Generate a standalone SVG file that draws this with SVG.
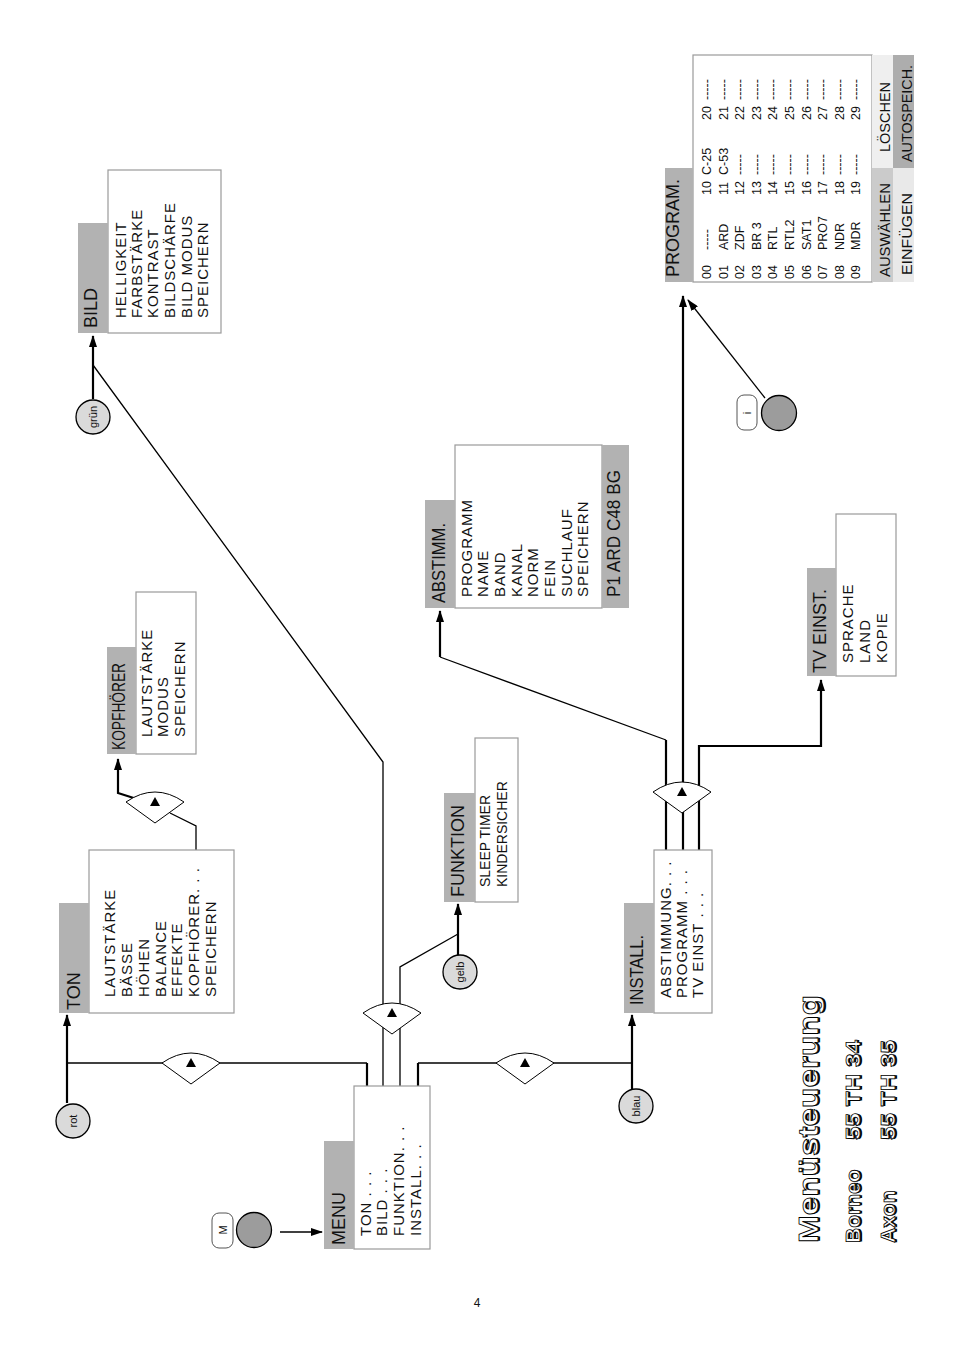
<svg xmlns="http://www.w3.org/2000/svg" width="954" height="1351" viewBox="0 0 954 1351">
<defs>
<style>
text{font-family:"Liberation Sans",Arial,sans-serif;fill:#111}
.hdr{fill:#b2b2b2}
.box{fill:#fff;stroke:#9a9a9a;stroke-width:1.2}
.h{font-size:18px}
.it{font-size:15px;letter-spacing:1px}
.tb{font-size:12.5px}
.bt{font-size:15px}
.ln{fill:none;stroke:#000;stroke-width:1.3}
.tk{fill:none;stroke:#000;stroke-width:2.2}
.fan{fill:#fff;stroke:#000;stroke-width:1}
.tri{fill:#000}
.btn{fill:#dadada;stroke:#000;stroke-width:1.3}
.gb{fill:#9c9c9c;stroke:#000;stroke-width:1.3}
.lab{fill:#fff;stroke:#555;stroke-width:1}
.lbl{font-size:11px;text-anchor:middle}
.ttl{font-weight:bold;fill:#fff;stroke:#000;stroke-width:0.8}
.sh{font-weight:bold;fill:#000}
</style>
<marker id="ah" markerUnits="userSpaceOnUse" markerWidth="12" markerHeight="8" refX="11" refY="4" orient="auto"><path d="M0,0 L12,4 L0,8 Z" fill="#000"/></marker>
</defs>

<g id="connectors">
  <line class="ln" x1="280" y1="1232" x2="322" y2="1232" marker-end="url(#ah)"/>
  <line class="tk" x1="67" y1="1103" x2="67" y2="1015" marker-end="url(#ah)"/>
  <path class="ln" d="M67,1063 L367,1063"/>
  <path class="tk" d="M367,1063 L367,1131"/>
  <line class="tk" x1="93" y1="399" x2="93" y2="336" marker-end="url(#ah)"/>
  <path class="ln" d="M93,365 L383,762 L383,1131"/>
  <line class="tk" x1="458" y1="955" x2="458" y2="904" marker-end="url(#ah)"/>
  <path class="ln" d="M400,1131 L400,967 L458,934"/>
  <line class="tk" x1="632" y1="1089" x2="632" y2="1015" marker-end="url(#ah)"/>
  <path class="tk" d="M418,1131 L418,1063"/>
  <path class="ln" d="M418,1063 L632,1063"/>
  <path class="ln" d="M196,876 L196,826 L170,813"/>
  <path class="tk" d="M140,800 L118,793 L118,759" marker-end="url(#ah)"/>
  <path class="tk" d="M666,850 L666,740"/>
  <path class="ln" d="M666,740 L440,657"/>
  <path class="tk" d="M440,657 L440,611" marker-end="url(#ah)"/>
  <path class="tk" d="M683,850 L683,296" marker-end="url(#ah)"/>
  <path class="tk" d="M699,850 L699,746 L821,746 L821,680" marker-end="url(#ah)"/>
  <line class="ln" x1="765" y1="398" x2="688" y2="300" marker-end="url(#ah)"/>
  <path class="fan" d="M162,1063 Q191,1043 220,1063 L191,1084 Z"/>
  <path class="tri" d="M191,1058 L196,1067 L186,1067 Z"/>
  <path class="fan" d="M363,1013 Q392,993 421,1013 L392,1034 Z"/>
  <path class="tri" d="M392,1008 L397,1017 L387,1017 Z"/>
  <path class="fan" d="M496,1063 Q525,1043 554,1063 L525,1084 Z"/>
  <path class="tri" d="M525,1058 L530,1067 L520,1067 Z"/>
  <path class="fan" d="M126,802 Q155,782 184,802 L155,823 Z"/>
  <path class="tri" d="M155,797 L160,806 L150,806 Z"/>
  <path class="fan" d="M653,792 Q682,772 711,792 L682,813 Z"/>
  <path class="tri" d="M682,787 L687,796 L677,796 Z"/>
</g>

<g id="btn-m">
  <rect class="lab" x="212" y="1213" width="21" height="35" rx="7"/>
  <circle class="gb" cx="254" cy="1230" r="17.5"/>
  <text class="lbl" transform="rotate(-90)" x="-1230" y="227">M</text>
</g>
<g id="btn-rot">
  <circle class="btn" cx="73" cy="1121" r="17"/>
  <text class="lbl" transform="rotate(-90)" x="-1121" y="77">rot</text>
</g>
<g id="btn-gruen">
  <circle class="btn" cx="93" cy="417" r="17"/>
  <text class="lbl" transform="rotate(-90)" x="-417" y="97">grün</text>
</g>
<g id="btn-gelb">
  <circle class="btn" cx="460" cy="972" r="17"/>
  <text class="lbl" transform="rotate(-90)" x="-972" y="464">gelb</text>
</g>
<g id="btn-blau">
  <circle class="btn" cx="636" cy="1106" r="17"/>
  <text class="lbl" transform="rotate(-90)" x="-1106" y="640">blau</text>
</g>
<g id="btn-i">
  <rect class="lab" x="737" y="395" width="20" height="35" rx="7"/>
  <circle class="gb" cx="779" cy="413" r="17.5"/>
  <text class="lbl" transform="rotate(-90)" x="-413" y="751">i</text>
</g>

<g id="menu">
  <rect class="box" x="354" y="1086" width="76" height="163"/>
  <rect class="hdr" x="324" y="1141" width="30" height="108"/>
  <g transform="rotate(-90)">
    <text class="h" x="-1245" y="345">MENU</text>
    <text class="it"><tspan x="-1236" y="371">TON . . .</tspan><tspan x="-1236" y="387">BILD . . .</tspan><tspan x="-1236" y="404">FUNKTION. . .</tspan><tspan x="-1236" y="421">INSTALL. . .</tspan></text>
  </g>
</g>

<g id="ton">
  <rect class="box" x="89" y="850" width="145" height="163"/>
  <rect class="hdr" x="59" y="903" width="30" height="110"/>
  <g transform="rotate(-90)">
    <text class="h" x="-1010" y="80">TON</text>
    <text class="it"><tspan x="-997" y="115">LAUTSTÄRKE</tspan><tspan x="-997" y="132">BÄSSE</tspan><tspan x="-997" y="149">HÖHEN</tspan><tspan x="-997" y="166">BALANCE</tspan><tspan x="-997" y="182">EFFEKTE</tspan><tspan x="-997" y="199">KOPFHÖRER. . .</tspan><tspan x="-997" y="216">SPEICHERN</tspan></text>
  </g>
</g>

<g id="bild">
  <rect class="box" x="108" y="170" width="113" height="163"/>
  <rect class="hdr" x="78" y="223" width="30" height="110"/>
  <g transform="rotate(-90)">
    <text class="h" x="-328" y="97">BILD</text>
    <text class="it"><tspan x="-318" y="126">HELLIGKEIT</tspan><tspan x="-318" y="142">FARBSTÄRKE</tspan><tspan x="-318" y="158">KONTRAST</tspan><tspan x="-318" y="175">BILDSCHÄRFE</tspan><tspan x="-318" y="192">BILD MODUS</tspan><tspan x="-318" y="208">SPEICHERN</tspan></text>
  </g>
</g>

<g id="kopfhoerer">
  <rect class="box" x="136" y="592" width="60" height="162"/>
  <rect class="hdr" x="107" y="647" width="29" height="107"/>
  <g transform="rotate(-90)">
    <text class="h" x="-750" y="125" font-size="17" textLength="87" lengthAdjust="spacingAndGlyphs">KOPFHÖRER</text>
    <text class="it"><tspan x="-737" y="152">LAUTSTÄRKE</tspan><tspan x="-737" y="168">MODUS</tspan><tspan x="-737" y="185">SPEICHERN</tspan></text>
  </g>
</g>

<g id="funktion">
  <rect class="box" x="475" y="738" width="43" height="164"/>
  <rect class="hdr" x="444" y="793" width="31" height="109"/>
  <g transform="rotate(-90)">
    <text class="h" x="-897" y="464">FUNKTION</text>
    <text font-size="14"><tspan x="-887" y="490">SLEEP TIMER</tspan><tspan x="-887" y="507">KINDERSICHER</tspan></text>
  </g>
</g>

<g id="install">
  <rect class="box" x="654" y="850" width="58" height="163"/>
  <rect class="hdr" x="624" y="903" width="30" height="110"/>
  <g transform="rotate(-90)">
    <text class="h" x="-1005" y="643" textLength="70" lengthAdjust="spacingAndGlyphs">INSTALL.</text>
    <text class="it"><tspan x="-998" y="671">ABSTIMMUNG. . .</tspan><tspan x="-998" y="687">PROGRAMM . . .</tspan><tspan x="-998" y="703">TV EINST . . .</tspan></text>
  </g>
</g>

<g id="abstimm">
  <rect class="box" x="455" y="445" width="147" height="163"/>
  <rect class="hdr" x="425" y="500" width="30" height="108"/>
  <rect class="hdr" x="602" y="445" width="27" height="163"/>
  <g transform="rotate(-90)">
    <text class="h" x="-603" y="445" textLength="80" lengthAdjust="spacingAndGlyphs">ABSTIMM.</text>
    <text class="it"><tspan x="-597" y="472">PROGRAMM</tspan><tspan x="-597" y="488">NAME</tspan><tspan x="-597" y="505">BAND</tspan><tspan x="-597" y="522">KANAL</tspan><tspan x="-597" y="538">NORM</tspan><tspan x="-597" y="555">FEIN</tspan><tspan x="-597" y="572">SUCHLAUF</tspan><tspan x="-597" y="588">SPEICHERN</tspan></text>
    <text class="h" x="-597" y="620" textLength="127" lengthAdjust="spacingAndGlyphs">P1 ARD C48 BG</text>
  </g>
</g>

<g id="tveinst">
  <rect class="box" x="836" y="514" width="60" height="162"/>
  <rect class="hdr" x="807" y="568" width="29" height="108"/>
  <g transform="rotate(-90)">
    <text class="h" x="-673" y="826">TV EINST.</text>
    <text class="it"><tspan x="-663" y="853">SPRACHE</tspan><tspan x="-663" y="870">LAND</tspan><tspan x="-663" y="887">KOPIE</tspan></text>
  </g>
</g>

<g id="program">
  <rect class="box" x="693" y="55" width="179" height="227"/>
  <rect class="hdr" x="665" y="168" width="28" height="114"/>
  <rect x="872" y="168" width="21" height="114" fill="#cbcbcb"/>
  <rect x="872" y="55" width="21" height="113" fill="#efefef"/>
  <rect x="893" y="168" width="21" height="114" fill="#e9e9e9"/>
  <rect x="893" y="55" width="21" height="113" fill="#adadad"/>
  <g transform="rotate(-90)">
    <text class="h" x="-277" y="679" font-size="17">PROGRAM.</text>
    <text class="tb">
      <tspan x="-279" y="711">00</tspan><tspan x="-250" y="711">-----</tspan><tspan x="-195" y="711">10</tspan><tspan x="-175" y="711">C-25</tspan><tspan x="-120" y="711">20</tspan><tspan x="-100" y="711">-----</tspan>
      <tspan x="-279" y="727.6">01</tspan><tspan x="-250" y="727.6">ARD</tspan><tspan x="-195" y="727.6">11</tspan><tspan x="-175" y="727.6">C-53</tspan><tspan x="-120" y="727.6">21</tspan><tspan x="-100" y="727.6">-----</tspan>
      <tspan x="-279" y="744.2">02</tspan><tspan x="-250" y="744.2">ZDF</tspan><tspan x="-195" y="744.2">12</tspan><tspan x="-175" y="744.2">-----</tspan><tspan x="-120" y="744.2">22</tspan><tspan x="-100" y="744.2">-----</tspan>
      <tspan x="-279" y="760.8">03</tspan><tspan x="-250" y="760.8">BR 3</tspan><tspan x="-195" y="760.8">13</tspan><tspan x="-175" y="760.8">-----</tspan><tspan x="-120" y="760.8">23</tspan><tspan x="-100" y="760.8">-----</tspan>
      <tspan x="-279" y="777.4">04</tspan><tspan x="-250" y="777.4">RTL</tspan><tspan x="-195" y="777.4">14</tspan><tspan x="-175" y="777.4">-----</tspan><tspan x="-120" y="777.4">24</tspan><tspan x="-100" y="777.4">-----</tspan>
      <tspan x="-279" y="794">05</tspan><tspan x="-250" y="794">RTL2</tspan><tspan x="-195" y="794">15</tspan><tspan x="-175" y="794">-----</tspan><tspan x="-120" y="794">25</tspan><tspan x="-100" y="794">-----</tspan>
      <tspan x="-279" y="810.6">06</tspan><tspan x="-250" y="810.6">SAT1</tspan><tspan x="-195" y="810.6">16</tspan><tspan x="-175" y="810.6">-----</tspan><tspan x="-120" y="810.6">26</tspan><tspan x="-100" y="810.6">-----</tspan>
      <tspan x="-279" y="827.2">07</tspan><tspan x="-250" y="827.2">PRO7</tspan><tspan x="-195" y="827.2">17</tspan><tspan x="-175" y="827.2">-----</tspan><tspan x="-120" y="827.2">27</tspan><tspan x="-100" y="827.2">-----</tspan>
      <tspan x="-279" y="843.8">08</tspan><tspan x="-250" y="843.8">NDR</tspan><tspan x="-195" y="843.8">18</tspan><tspan x="-175" y="843.8">-----</tspan><tspan x="-120" y="843.8">28</tspan><tspan x="-100" y="843.8">-----</tspan>
      <tspan x="-279" y="860.4">09</tspan><tspan x="-250" y="860.4">MDR</tspan><tspan x="-195" y="860.4">19</tspan><tspan x="-175" y="860.4">-----</tspan><tspan x="-120" y="860.4">29</tspan><tspan x="-100" y="860.4">-----</tspan>
    </text>
    <text class="bt" x="-277" y="890" textLength="94" lengthAdjust="spacingAndGlyphs">AUSWÄHLEN</text>
    <text class="bt" x="-152" y="890" textLength="70" lengthAdjust="spacingAndGlyphs">LÖSCHEN</text>
    <text class="bt" x="-275" y="912" textLength="82" lengthAdjust="spacingAndGlyphs">EINFÜGEN</text>
    <text class="bt" x="-162" y="912" textLength="97" lengthAdjust="spacingAndGlyphs">AUTOSPEICH.</text>
  </g>
</g>

<g id="title" transform="rotate(-90)">
  <text class="sh" x="-1243" y="819.5" font-size="28" textLength="248" lengthAdjust="spacingAndGlyphs">Menüsteuerung</text>
  <text class="ttl" x="-1243" y="818" font-size="28" textLength="248" lengthAdjust="spacingAndGlyphs">Menüsteuerung</text>
  <text class="sh" x="-1243" y="861.5" font-size="21">Borneo</text>
  <text class="ttl" x="-1243" y="860" font-size="21">Borneo</text>
  <text class="sh" x="-1140" y="861.5" font-size="21" textLength="100" lengthAdjust="spacingAndGlyphs">55 TH 34</text>
  <text class="ttl" x="-1140" y="860" font-size="21" textLength="100" lengthAdjust="spacingAndGlyphs">55 TH 34</text>
  <text class="sh" x="-1243" y="896.5" font-size="21">Axon</text>
  <text class="ttl" x="-1243" y="895" font-size="21">Axon</text>
  <text class="sh" x="-1140" y="896.5" font-size="21" textLength="100" lengthAdjust="spacingAndGlyphs">55 TH 35</text>
  <text class="ttl" x="-1140" y="895" font-size="21" textLength="100" lengthAdjust="spacingAndGlyphs">55 TH 35</text>
</g>

<text x="477" y="1307" font-size="12" text-anchor="middle">4</text>
</svg>
